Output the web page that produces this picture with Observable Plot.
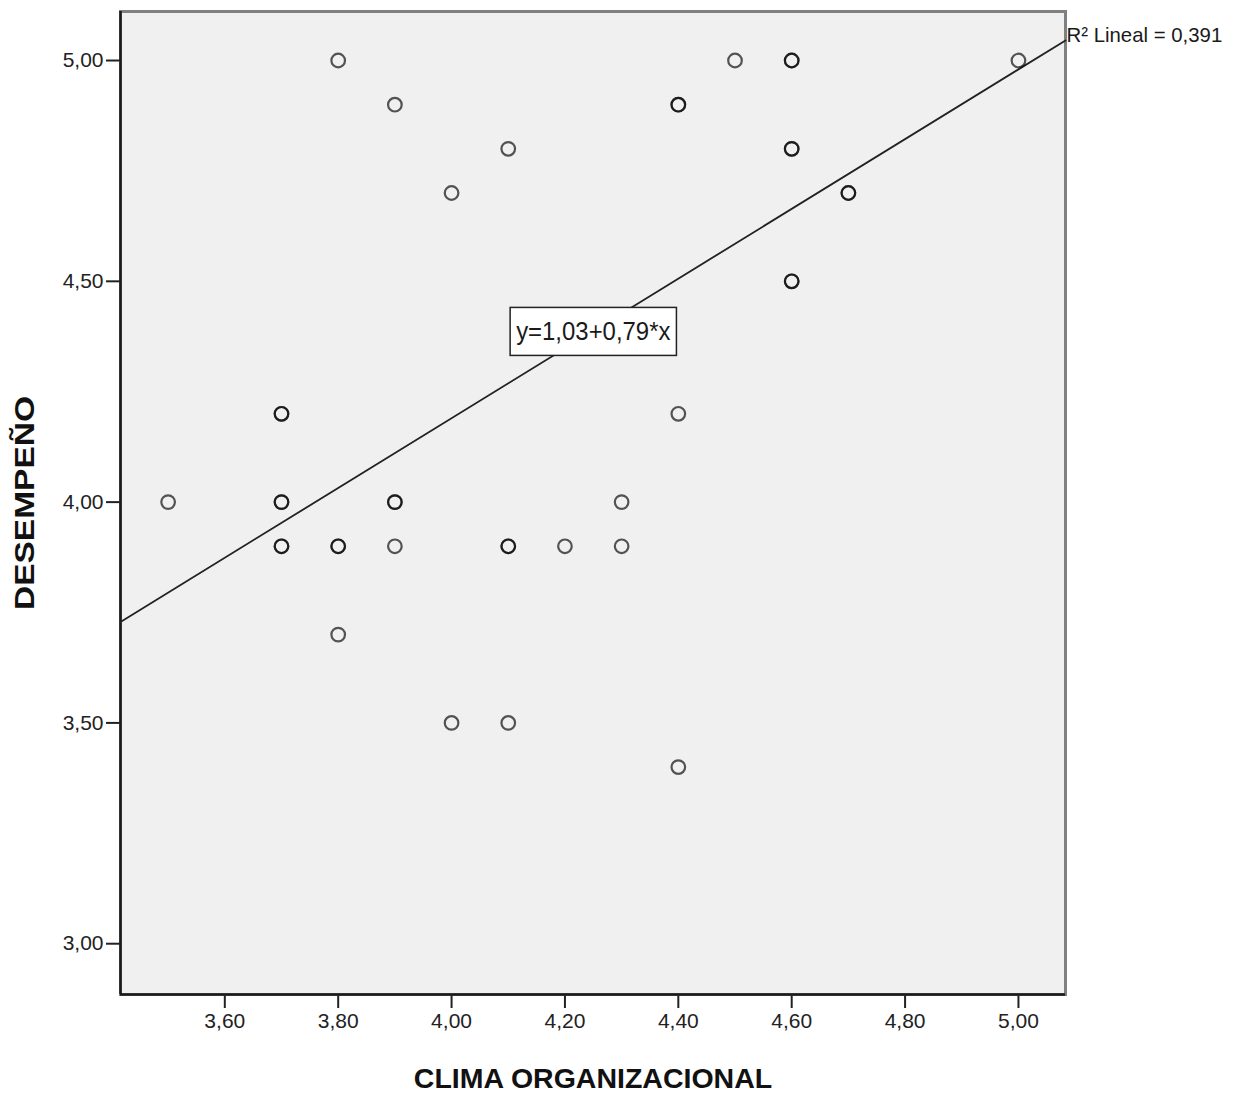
<!DOCTYPE html>
<html>
<head>
<meta charset="utf-8">
<script src="https://cdn.jsdelivr.net/npm/d3@7"></script>
<script src="https://cdn.jsdelivr.net/npm/@observablehq/plot@0.6"></script>
<style>
  html, body { margin: 0; padding: 0; background: #fff; }
  svg { display: block; }
</style>
</head>
<body>
<div id="chart"></div>
<script>
// Observations (repeated entries are respondents sharing the same pair of scores)
const clima = [
  3.5, 3.7, 3.7, 3.7, 3.7, 3.7, 3.7, 3.8, 3.8, 3.8, 3.8, 3.9, 3.9, 3.9, 3.9,
  4.0, 4.0, 4.1, 4.1, 4.1, 4.1, 4.2, 4.3, 4.3, 4.4, 4.4, 4.4, 4.4, 4.5,
  4.6, 4.6, 4.6, 4.6, 4.6, 4.6, 4.7, 4.7, 5.0
];
const desempeno = [
  4.0, 4.2, 4.2, 4.0, 4.0, 3.9, 3.9, 5.0, 3.9, 3.9, 3.7, 4.9, 4.0, 4.0, 3.9,
  4.7, 3.5, 4.8, 3.9, 3.9, 3.5, 3.9, 4.0, 3.9, 4.9, 4.9, 4.2, 3.4, 5.0,
  5.0, 5.0, 4.8, 4.8, 4.5, 4.5, 4.7, 4.7, 5.0
];

// Axis ticks and extents
const xTicks = [3.6, 3.8, 4.0, 4.2, 4.4, 4.6, 4.8, 5.0];
const yTicks = [3.0, 3.5, 4.0, 4.5, 5.0];
const xDomain = [3.416, 5.083];
const yDomain = [2.885, 5.111];

// Linear fit (as reported) and the position of its equation label
const intercept = 1.03;
const slope = 0.79;
const r2 = 0.391;
const equationAt = [4.25, 4.385];

const xTitle = "CLIMA ORGANIZACIONAL";
const yTitle = "DESEMPEÑO";

const comma = (f) => (v) => d3.format(f)(v).replace(".", ",");
const fmt2 = comma(".2f");
const fmt3 = comma(".3f");

const points = clima.map((x, i) => ({x, y: desempeno[i]}));
const fit = xDomain.map((x) => ({x, y: intercept + slope * x}));
const equation = `y=${fmt2(intercept)}+${fmt2(slope)}*x`;
const r2Label = `R² Lineal = ${fmt3(r2)}`;
const fitEnd = fit[fit.length - 1];

const font = "'Liberation Sans', Arial, Helvetica, sans-serif";

const svg = Plot.plot({
  width: 1239,
  height: 1097,
  marginLeft: 120,
  marginRight: 174,
  marginTop: 11,
  marginBottom: 103,
  style: {fontFamily: font, fontSize: "21px", color: "#222", background: "#fff", overflow: "visible"},
  x: {domain: xDomain, label: null},
  y: {domain: yDomain, label: null},
  marks: [
    Plot.frame({fill: "#f0f0f0", stroke: "#808080", strokeWidth: 3}),
    Plot.ruleX([xDomain[0]], {stroke: "#1a1a1a", strokeWidth: 2.5}),
    Plot.ruleY([yDomain[0]], {stroke: "#1a1a1a", strokeWidth: 2.5}),
    Plot.axisX({ticks: xTicks, tickFormat: fmt2, tickSize: 14, tickPadding: 5, strokeWidth: 2, label: null}),
    Plot.axisY({ticks: yTicks, tickFormat: fmt2, tickSize: 14, tickPadding: 3, strokeWidth: 2, label: null}),
    Plot.line(fit, {x: "x", y: "y", stroke: "#222", strokeWidth: 1.8}),
    Plot.dot(points, {x: "x", y: "y", r: 6.8, fill: "none", stroke: "#000", strokeOpacity: 0.66, strokeWidth: 2.2}),
    Plot.text([{x: equationAt[0], y: equationAt[1], t: equation}], {
      x: "x", y: "y", text: "t", fontSize: 26, fill: "#1a1a1a"
    }),
    Plot.text([{x: fitEnd.x, y: fitEnd.y, t: r2Label}], {
      x: "x", y: "y", text: "t", textAnchor: "start", lineAnchor: "bottom",
      dx: 1, dy: 2, fontSize: 21, fill: "#1a1a1a"
    }),
    Plot.text([xTitle], {
      frameAnchor: "bottom", textAnchor: "middle", lineAnchor: "middle",
      dy: 84, fontSize: 28.5, fontWeight: "bold", fill: "#111"
    }),
    Plot.text([yTitle], {
      frameAnchor: "left", textAnchor: "middle", lineAnchor: "middle",
      dx: -95, rotate: -90, fontSize: 27, fontWeight: "bold", fill: "#111"
    })
  ]
});

document.getElementById("chart").appendChild(svg);

const findText = (s) => [...svg.querySelectorAll("text")].find((e) => e.textContent === s);

// Adjust the drawn length of a label (narrower or longer glyphs, same height)
function setLength(el, factor) {
  if (!el) return;
  const w = el.getComputedTextLength();
  el.setAttribute("textLength", w * factor);
  el.setAttribute("lengthAdjust", "spacingAndGlyphs");
}
setLength(findText(equation), 0.92);
setLength(findText(yTitle), 1.24);
setLength(findText(r2Label), 0.97);

// Boxed equation label: white rectangle behind the equation text
const eqText = findText(equation);
if (eqText) {
  const b = eqText.getBBox();
  const padX = 6, padY = 9;
  const rect = document.createElementNS("http://www.w3.org/2000/svg", "rect");
  rect.setAttribute("x", b.x - padX);
  rect.setAttribute("y", b.y - padY);
  rect.setAttribute("width", b.width + 2 * padX);
  rect.setAttribute("height", b.height + 2 * padY);
  rect.setAttribute("fill", "#fff");
  rect.setAttribute("stroke", "#222");
  rect.setAttribute("stroke-width", 1.5);
  const tr = eqText.getAttribute("transform");
  if (tr) rect.setAttribute("transform", tr);
  eqText.parentNode.insertBefore(rect, eqText);
}
</script>
</body>
</html>
